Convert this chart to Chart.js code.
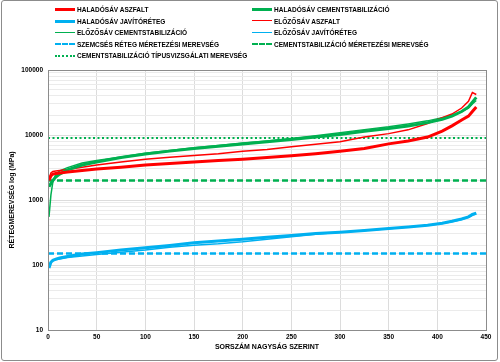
<!DOCTYPE html>
<html>
<head>
<meta charset="utf-8">
<script src="https://cdn.jsdelivr.net/npm/chart.js@4.4.1/dist/chart.umd.min.js"></script>
<style>
  html, body { margin: 0; padding: 0; background: #fff; }
  #frame { position: absolute; left: 1px; top: 0; width: 495px; height: 359px; border: 1px solid #8c8c8c; border-radius: 3px; }
  #wrap { position: absolute; left: 0; top: 0; width: 500px; height: 362px; }
  #legend { position: absolute; left: 0; top: 4px; width: 500px; font: bold 6.5px "Liberation Sans", Arial, sans-serif; color: #000; }
  .item { position: absolute; height: 11px; line-height: 11px; white-space: nowrap; }
  .item .swatch { position: absolute; left: 0; top: 4px; width: 20px; height: 0; }
  .item span { position: absolute; left: 22px; top: 0; }
</style>
</head>
<body>
<div id="frame"></div>
<div id="wrap"><canvas id="chart"></canvas></div>
<div id="legend"></div>
<script>
// rank positions (sorted by size)
const ranks = [1, 3, 5, 8, 12, 20, 35, 50, 75, 100, 125, 150, 175, 200, 225, 250, 275, 300, 325, 350, 370, 390, 405, 415, 425, 432, 436, 440];

// layer moduli, MPa
const haladoAszfalt = [2000, 2350, 2500, 2550, 2600, 2700, 2850, 3000, 3200, 3450, 3650, 3850, 4050, 4250, 4500, 4800, 5150, 5600, 6200, 7300, 8100, 9300, 11500, 13800, 17000, 19500, 23000, 27000];
const haladoCement = [1600, 1800, 2000, 2250, 2500, 2900, 3450, 3850, 4500, 5100, 5650, 6200, 6700, 7300, 7900, 8500, 9300, 10200, 11400, 12600, 13800, 15500, 17500, 19500, 23000, 27000, 32000, 38000];
const haladoJavito = [90, 110, 118, 123, 128, 135, 148, 155, 170, 185, 200, 220, 235, 250, 268, 285, 305, 320, 340, 365, 385, 410, 440, 470, 510, 550, 600, 630];
const elozoAszfalt = [2100, 2600, 2750, 2800, 2850, 2950, 3200, 3450, 3850, 4250, 4550, 4850, 5150, 5600, 6000, 6600, 7200, 7900, 9300, 10500, 12000, 15000, 18500, 21000, 26000, 33000, 45000, 42000];
const elozoCement = [550, 1200, 1900, 2500, 2800, 3150, 3700, 4050, 4600, 5250, 5800, 6350, 6900, 7500, 8100, 8800, 9700, 10800, 12100, 13400, 14800, 16500, 18500, 20000, 23000, 26000, 30000, 34000];
const elozoJavito = [100, 112, 116, 120, 124, 130, 138, 145, 157, 170, 188, 202, 212, 228, 250, 272, 297, 318, 338, 362, 383, 408, 435, 462, 500, 540, 580, 610];

// design / type-test reference values, MPa
const refRange = [0, 450];
const szemcsesMeretezesi = 150;
const cementMeretezesi = 2000;
const cementTipus = 9000;

const RED = '#ff0000', GREEN = '#00b050', BLUE = '#00b0f0';

function series(values) {
  return ranks.map((r, i) => ({ x: r, y: values[i] }));
}
function level(v) {
  return refRange.map(x => ({ x, y: v }));
}

const datasets = [
  { label: 'HALADÓSÁV ASZFALT', data: series(haladoAszfalt), borderColor: RED, borderWidth: 3, legendStyle: 'solid 3px' },
  { label: 'HALADÓSÁV CEMENTSTABILIZÁCIÓ', data: series(haladoCement), borderColor: GREEN, borderWidth: 3, legendStyle: 'solid 3px' },
  { label: 'HALADÓSÁV JAVÍTÓRÉTEG', data: series(haladoJavito), borderColor: BLUE, borderWidth: 3, legendStyle: 'solid 3px' },
  { label: 'ELŐZŐSÁV ASZFALT', data: series(elozoAszfalt), borderColor: RED, borderWidth: 1.5, legendStyle: 'solid 1.5px' },
  { label: 'ELŐZŐSÁV CEMENTSTABILIZÁCIÓ', data: series(elozoCement), borderColor: GREEN, borderWidth: 1.5, legendStyle: 'solid 1.5px' },
  { label: 'ELŐZŐSÁV JAVÍTÓRÉTEG', data: series(elozoJavito), borderColor: BLUE, borderWidth: 1.5, legendStyle: 'solid 1.5px' },
  { label: 'SZEMCSÉS RÉTEG MÉRETEZÉSI MEREVSÉG', data: level(szemcsesMeretezesi), borderColor: BLUE, borderWidth: 2.5, borderDash: [6, 3], legendStyle: 'dashed 2.5px' },
  { label: 'CEMENTSTABILIZÁCIÓ MÉRETEZÉSI MEREVSÉG', data: level(cementMeretezesi), borderColor: GREEN, borderWidth: 2.5, borderDash: [6, 3], legendStyle: 'dashed 2.5px' },
  { label: 'CEMENTSTABILIZÁCIÓ TÍPUSVIZSGÁLATI MEREVSÉG', data: level(cementTipus), borderColor: GREEN, borderWidth: 2, borderDash: [2, 2.5], legendStyle: 'dotted 2px' }
];
datasets.forEach(d => { d.pointRadius = 0; d.fill = false; d.tension = 0; });

// legend in two columns like the original
const legend = document.getElementById('legend');
datasets.forEach((d, i) => {
  const item = document.createElement('div');
  item.className = 'item';
  item.style.left = (i % 2 === 0 ? 55 : 252) + 'px';
  item.style.top = (Math.floor(i / 2) * 11.5) + 'px';
  const sw = document.createElement('div');
  sw.className = 'swatch';
  const [style, w] = d.legendStyle.split(' ');
  sw.style.borderTop = w + ' ' + style + ' ' + d.borderColor;
  sw.style.top = (5.5 - parseFloat(w) / 2) + 'px';
  const txt = document.createElement('span');
  txt.textContent = d.label;
  item.appendChild(sw);
  item.appendChild(txt);
  legend.appendChild(item);
});

const plotBox = {
  id: 'plotBox',
  afterDatasetsDraw(chart) {
    const { ctx, chartArea: a } = chart;
    ctx.save();
    ctx.strokeStyle = '#8c8c8c';
    ctx.lineWidth = 1;
    ctx.strokeRect(Math.round(a.left) + 0.5, Math.round(a.top) + 0.5, Math.round(a.right - a.left), Math.round(a.bottom - a.top));
    ctx.restore();
  }
};

const font = { family: "'Liberation Sans', Arial, sans-serif", size: 6.5, weight: 'bold' };

new Chart(document.getElementById('chart'), {
  type: 'line',
  data: { datasets },
  plugins: [plotBox],
  options: {
    responsive: true,
    maintainAspectRatio: false,
    animation: false,
    layout: { padding: { left: 4, top: 70, right: 14, bottom: 11 } },
    plugins: { legend: { display: false }, tooltip: { enabled: false } },
    scales: {
      x: {
        type: 'linear',
        min: 0,
        max: 450,
        ticks: { stepSize: 50, color: '#000', font, padding: 3 },
        grid: { color: '#dcdcdc', drawTicks: false },
        border: { display: false },
        title: { display: true, text: 'SORSZÁM NAGYSÁG SZERINT', color: '#000', font: { ...font, size: 7 }, padding: { top: 1, bottom: 0 } },
        afterFit(scale) { scale.height = 21; }
      },
      y: {
        type: 'logarithmic',
        min: 10,
        max: 100000,
        ticks: {
          autoSkip: false,
          color: '#000',
          font,
          padding: 5,
          callback(v) {
            const l = Math.log10(v);
            return Math.abs(l - Math.round(l)) < 1e-9 ? String(v) : '';
          }
        },
        grid: {
          drawTicks: false,
          color(ctx) {
            const v = ctx.tick && ctx.tick.value;
            if (!v) return '#ebebeb';
            const l = Math.log10(v);
            return Math.abs(l - Math.round(l)) < 1e-9 ? '#dcdcdc' : '#ebebeb';
          }
        },
        border: { display: false },
        title: { display: true, text: 'RÉTEGMEREVSÉG log (MPa)', color: '#000', font: { ...font, size: 7 }, padding: { top: 4, bottom: 0 } },
        afterFit(scale) { scale.width = 44; }
      }
    }
  }
});
</script>
</body>
</html>
